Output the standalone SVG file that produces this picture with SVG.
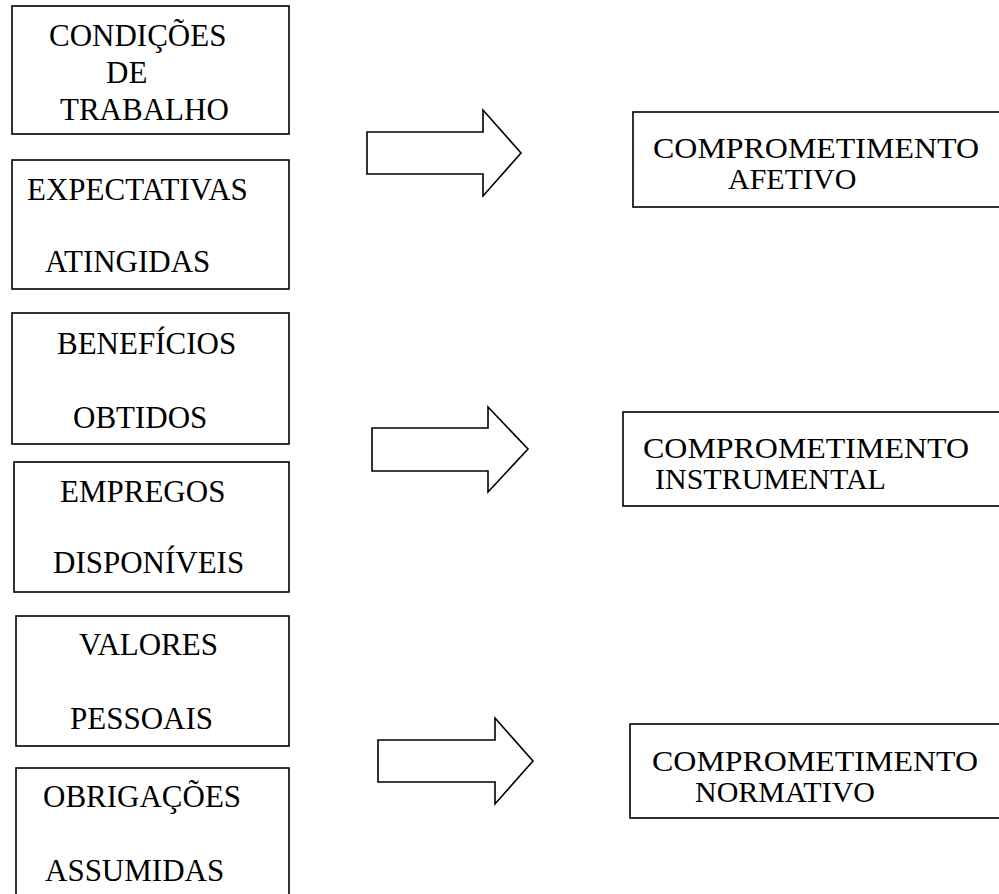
<svg xmlns="http://www.w3.org/2000/svg" width="999" height="894" viewBox="0 0 999 894">
<style>
.box{fill:#fff;stroke:#000;stroke-width:1.6}
.arr{fill:#fff;stroke:#000;stroke-width:1.6;stroke-linejoin:miter}
.t{font-family:'Liberation Serif','Times New Roman','DejaVu Serif',serif;font-size:31px;fill:#000}
.r{font-family:'Liberation Serif','Times New Roman','DejaVu Serif',serif;font-size:30px;fill:#000}
</style>
<rect width="999" height="894" fill="#fff"/>
<g id="n1"><rect class="box" x="12" y="6" width="277" height="128"/>
<text class="t" x="49" y="46">CONDIÇÕES</text><text class="t" x="106" y="83">DE</text><text class="t" x="60" y="120">TRABALHO</text></g>
<g id="n2"><rect class="box" x="12" y="160" width="277" height="129"/>
<text class="t" x="27" y="200">EXPECTATIVAS</text><text class="t" x="45" y="272">ATINGIDAS</text></g>
<g id="n3"><rect class="box" x="12" y="313" width="277" height="131"/>
<text class="t" x="57" y="354">BENEFÍCIOS</text><text class="t" x="73" y="428">OBTIDOS</text></g>
<g id="n4"><rect class="box" x="14" y="462" width="275" height="130"/>
<text class="t" x="60" y="502">EMPREGOS</text><text class="t" x="53" y="573">DISPONÍVEIS</text></g>
<g id="n5"><rect class="box" x="16" y="616" width="273" height="130"/>
<text class="t" x="79" y="655">VALORES</text><text class="t" x="70" y="729">PESSOAIS</text></g>
<g id="n6"><rect class="box" x="16" y="768" width="273" height="140"/>
<text class="t" x="43" y="807">OBRIGAÇÕES</text><text class="t" x="45" y="881">ASSUMIDAS</text></g>
<g id="r1"><rect class="box" x="633" y="112" width="380" height="95"/>
<text class="r" x="653" y="158" textLength="326" lengthAdjust="spacingAndGlyphs">COMPROMETIMENTO</text><text class="r" x="728" y="189">AFETIVO</text></g>
<g id="r2"><rect class="box" x="623" y="412" width="390" height="94"/>
<text class="r" x="643" y="458" textLength="326" lengthAdjust="spacingAndGlyphs">COMPROMETIMENTO</text><text class="r" x="655" y="489">INSTRUMENTAL</text></g>
<g id="r3"><rect class="box" x="630" y="724" width="383" height="94"/>
<text class="r" x="652" y="771" textLength="326" lengthAdjust="spacingAndGlyphs">COMPROMETIMENTO</text><text class="r" x="695" y="802">NORMATIVO</text></g>
<g id="connectors">
<polygon class="arr" points="367,132 483,132 483,110 521,153 483,196 483,174 367,174"/>
<polygon class="arr" points="372,428 488,428 488,407 528,449 488,492 488,471 372,471"/>
<polygon class="arr" points="378,740 495,740 495,718 533,761 495,804 495,782 378,782"/>
</g>
</svg>
